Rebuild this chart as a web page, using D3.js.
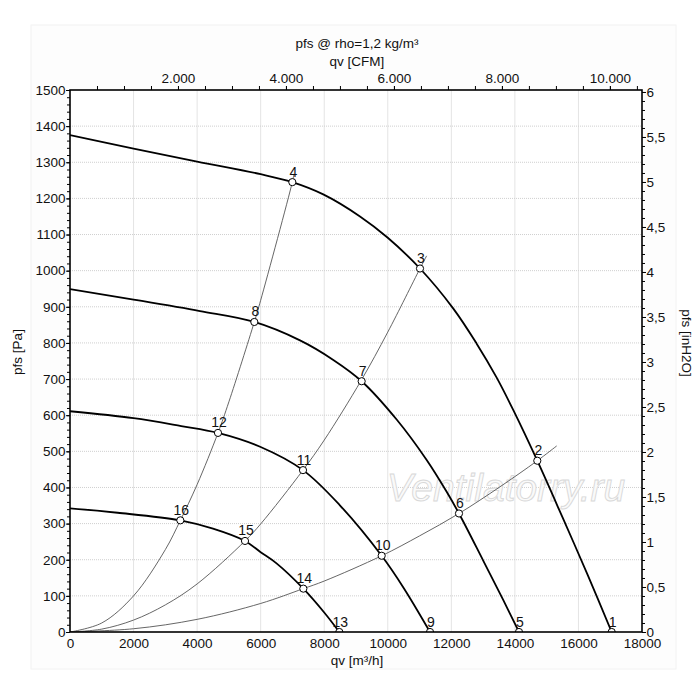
<!DOCTYPE html>
<html><head><meta charset="utf-8">
<script src="https://cdn.jsdelivr.net/npm/d3@7"></script>
<style>
html,body{margin:0;padding:0;background:#fff;}
svg text{font-family:"Liberation Sans",Arial,sans-serif;fill:#111;}
</style></head>
<body><svg id="c" width="700" height="700"></svg>
<script>
// ---- data (qv m³/h, pfs Pa) ----
const fan1 = [[0,1375],[2000,1338],[4000,1302],[6000,1267],[6996,1245],[7970,1211],[9126,1150],[10000,1091],[11014,1006],[12063,895],[12797,798],[13427,704],[13951,614],[14705,474],[15500,317],[16300,156],[17046,0]];
const fan2 = [[0,949],[2000,920],[4091,888],[5800,858],[7238,807],[8286,753],[9178,694],[10279,588],[11224,476],[11853,388],[12241,328],[13007,197],[13636,88],[14129,0]];
const fan3 = [[0,611],[2000,592],[3500,570],[4657,551],[6000,512],[7332,448],[8500,350],[9808,211],[10500,122],[11329,0]];
const fan4 = [[0,342],[1500,330],[3472,309],[4500,286],[5507,252],[6000,221],[6500,190],[7343,120],[8000,54],[8475,0]];
const sysA = [[0,0],[1000,25],[2000,100],[3000,228],[3472,309],[4000,408],[4657,551],[5000,637],[5800,858],[6000,918],[6996,1245],[7050,1268]];
const sysB = [[0,0],[1000,8],[2000,33],[3000,75],[4000,133],[5507,252],[6000,299],[7332,448],[8000,531],[9168,697],[10000,830],[11014,1006],[11223,1041]];
const sysC = [[0,0],[2000,9],[4000,35],[6000,79],[7343,120],[8000,141],[9808,211],[11000,266],[12241,328],[13500,400],[14705,474],[15316,515]];
const pointLabels = ["1","2","3","4","5","6","7","8","9","10","11","12","13","14","15","16"];
const pointQ = [17046,14705,11014,6996,14129,12241,9178,5800,11329,9808,7332,4657,8475,7343,5507,3472];
const pointP = [0,474,1006,1245,0,328,694,858,0,211,448,551,0,120,252,309];
const xTicks = [0,2000,4000,6000,8000,10000,12000,14000,16000,18000];
const yTicks = d3.range(0,1501,100);
const cfmTicks = [2000,4000,6000,8000,10000];
const inTicks = d3.range(0,6.01,0.5);

const svg = d3.select("#c");
const L=70,R=642,T=90,B=632;
const x = d3.scaleLinear([0,18000],[L,R]);
const y = d3.scaleLinear([0,1500],[B,T]);
const xCFM = d3.scaleLinear([0,18000/1.699],[L,R]);
const yIn = d3.scaleLinear([0,1500/249.089],[B,T]);

// faint background panel
svg.append("rect").attr("x",31).attr("y",25).attr("width",645).attr("height",644)
  .attr("fill","#fdfdfd").attr("stroke","#f2f2f2");
svg.append("rect").attr("x",L).attr("y",T).attr("width",R-L).attr("height",B-T).attr("fill","#fff");

// grid
svg.append("g").selectAll("line").data(xTicks.filter(d=>d>0&&d<18000)).join("line")
  .attr("x1",d=>x(d)).attr("x2",d=>x(d)).attr("y1",T).attr("y2",B)
  .attr("stroke","#e4e4e4").attr("stroke-width",1);
svg.append("g").selectAll("line").data(yTicks.filter(d=>d>0&&d<1500)).join("line")
  .attr("x1",L).attr("x2",R).attr("y1",d=>y(d)).attr("y2",d=>y(d))
  .attr("stroke","#cfcfcf").attr("stroke-width",1).attr("stroke-dasharray","1,1");

// watermark
svg.append("text").attr("x",506).attr("y",501).attr("text-anchor","middle")
  .style("font-size","39px").style("font-style","italic")
  .style("fill","#fafafa").style("stroke","#d8d8d8").style("stroke-width","0.9")
  .text("Ventilatorry.ru");

svg.append("clipPath").attr("id","clip").append("rect").attr("x",L).attr("y",T).attr("width",R-L).attr("height",B-T);
const plot = svg.append("g").attr("clip-path","url(#clip)");

const line = d3.line().x(d=>x(d[0])).y(d=>y(d[1])).curve(d3.curveCatmullRom.alpha(0.5));
[sysA,sysB,sysC].forEach(s=>{
  plot.append("path").datum(s).attr("d",line).attr("fill","none").attr("stroke","#555").attr("stroke-width",0.9);
});
[fan1,fan2,fan3,fan4].forEach(s=>{
  plot.append("path").datum(s).attr("d",line).attr("fill","none").attr("stroke","#000").attr("stroke-width",1.8);
});
const pts = pointLabels.map((l,i)=>({l,q:pointQ[i],p:pointP[i]}));
plot.selectAll("circle").data(pts).join("circle")
  .attr("cx",d=>x(d.q)).attr("cy",d=>y(d.p)).attr("r",3.6)
  .attr("fill","#fff").attr("stroke","#000").attr("stroke-width",1);
svg.append("g").selectAll("text").data(pts).join("text")
  .attr("x",d=>x(d.q)+1).attr("y",d=>y(d.p)-5.5).attr("text-anchor","middle")
  .style("font-size","14px").text(d=>d.l);

// frame
svg.append("rect").attr("x",L).attr("y",T).attr("width",R-L).attr("height",B-T)
  .attr("fill","none").attr("stroke","#000").attr("stroke-width",1.6);

const fs="13.5px";
function styleAxis(g){g.select(".domain").remove();g.selectAll("line").attr("stroke","#000");g.selectAll("text").style("font-size",fs).attr("fill","#111");}

// left
svg.append("g").attr("transform",`translate(${L},0)`).call(d3.axisLeft(y).tickValues(d3.range(0,1500,20)).tickSize(3).tickFormat("")).call(styleAxis);
svg.append("g").attr("transform",`translate(${L},0)`).call(d3.axisLeft(y).tickValues(yTicks).tickSize(4).tickPadding(0.5).tickFormat(d3.format("d"))).call(styleAxis);
// right
const comma = d=>String(+d.toFixed(1)).replace(".",",");
svg.append("g").attr("transform",`translate(${R},0)`).call(d3.axisRight(yIn).tickValues(d3.range(0,6.01,0.1)).tickSize(3).tickFormat("")).call(styleAxis);
svg.append("g").attr("transform",`translate(${R},0)`).call(d3.axisRight(yIn).tickValues(inTicks).tickSize(4).tickPadding(0.5).tickFormat(comma)).call(styleAxis);
// top
const dotFmt = d3.formatLocale({decimal:",",thousands:".",grouping:[3],currency:["",""]}).format(",");
svg.append("g").attr("transform",`translate(0,${T})`).call(d3.axisTop(xCFM).tickValues(d3.range(500,10594,500)).tickSize(4).tickFormat("")).call(styleAxis);
svg.append("g").attr("transform",`translate(0,${T})`).call(d3.axisTop(xCFM).tickValues(cfmTicks).tickSize(4).tickPadding(3).tickFormat(dotFmt)).call(styleAxis);
// bottom
svg.append("g").attr("transform",`translate(0,${B})`).call(d3.axisBottom(x).tickValues(xTicks).tickSize(0).tickPadding(6.5).tickFormat(d3.format("d"))).call(styleAxis);

// titles
svg.append("text").attr("x",357).attr("y",48).attr("text-anchor","middle").style("font-size",fs).text("pfs @ rho=1,2 kg/m³");
svg.append("text").attr("x",357).attr("y",66).attr("text-anchor","middle").style("font-size",fs).text("qv [CFM]");
svg.append("text").attr("x",357).attr("y",665).attr("text-anchor","middle").style("font-size",fs).text("qv [m³/h]");
svg.append("text").attr("transform","translate(22,352) rotate(-90)").attr("text-anchor","middle").style("font-size",fs).text("pfs [Pa]");
svg.append("text").attr("transform","translate(682,343) rotate(90)").attr("text-anchor","middle").style("font-size",fs).text("pfs [inH2O]");
</script></body></html>
